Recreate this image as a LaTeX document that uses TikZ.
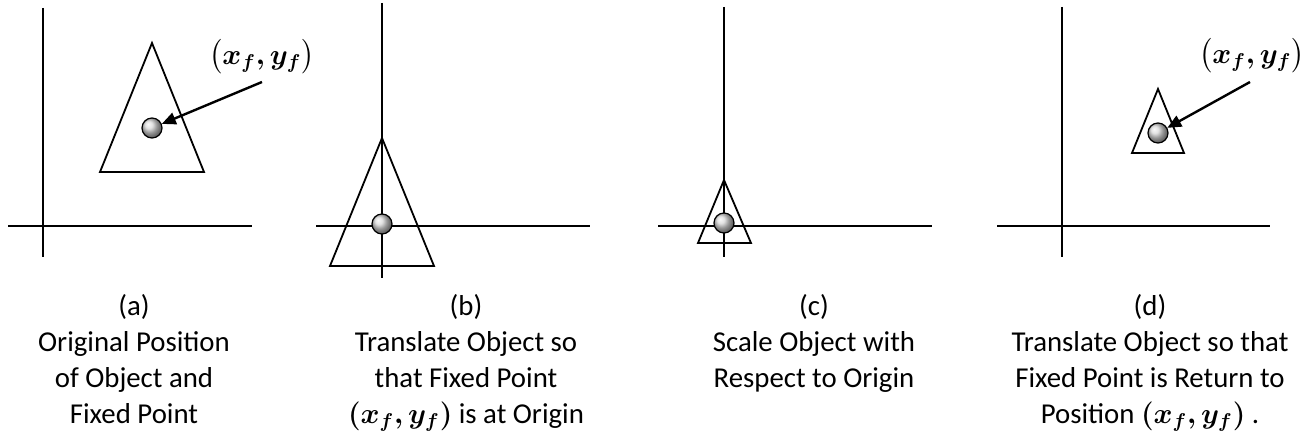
\documentclass[tikz,border=0pt]{standalone}
\usepackage{amsmath}
\usepackage{bm}
\usepackage{fontspec}
\setmainfont{Carlito}
\usetikzlibrary{arrows.meta}
\begin{document}
\begin{tikzpicture}[x=0.5pt,y=0.5pt, every node/.style={font=\fontsize{14.4}{18}\selectfont},
  axis/.style={line width=0.9pt},
  tri/.style={draw,line width=0.9pt},
  ball/.style={circle,draw,line width=0.6pt,minimum size=10pt,inner sep=0pt,shading=ball,ball color=gray!30},
  ptr/.style={-{Triangle[length=7pt,width=6pt]},line width=1.2pt},
  captext/.style={align=center,anchor=north,inner sep=0pt},
  lab/.style={inner sep=1pt}]
\useasboundingbox (0,0) rectangle (1314,439);
% (a) original position
\draw[axis] (43,431) -- (43,182);
\draw[axis] (8,213) -- (252,213);
\draw[tri] (152,396) -- (204,267) -- (100,267) -- cycle;
\node[ball] (ptA) at (152,311) {};
\node[lab] (labA) at (262,382) {$\bm{\bigl(x_f,y_f\bigr)}$};
\coordinate (srcA) at (262,357);
\draw[ptr] (srcA) -- (ptA);
\node[captext] (capA) at (134,145) {(a)\\Original Position\\of Object and\\Fixed Point};
% (b) fixed point moved to origin
\draw[axis] (382,436) -- (382,161);
\draw[axis] (316,213) -- (590,213);
\draw[tri] (382,301) -- (434,173) -- (330,173) -- cycle;
\node[ball] (ptB) at (382,215) {};
\node[captext] (capB) at (466,145) {(b)\\Translate Object so\\that Fixed Point\\$\bm{(x_f,y_f)}$ is at Origin};
% (c) scaled about origin
\draw[axis] (724,432) -- (724,182);
\draw[axis] (658,213) -- (932,213);
\draw[tri] (724,259) -- (751,196) -- (698,196) -- cycle;
\node[ball] (ptC) at (724,216) {};
\node[captext] (capC) at (814,145) {(c)\\Scale Object with\\Respect to Origin};
% (d) moved back
\draw[axis] (1062,432) -- (1062,182);
\draw[axis] (997,213) -- (1270,213);
\draw[tri] (1158,350) -- (1184,286) -- (1132,286) -- cycle;
\node[ball] (ptD) at (1158,306) {};
\node[lab] (labD) at (1252,383) {$\bm{\bigl(x_f,y_f\bigr)}$};
\coordinate (srcD) at (1250,357);
\draw[ptr] (srcD) -- (ptD);
\node[captext] (capD) at (1150,145) {(d)\\Translate Object so that\\Fixed Point is Return to\\Position $\bm{(x_f,y_f)}$ .};
\end{tikzpicture}
\end{document}
